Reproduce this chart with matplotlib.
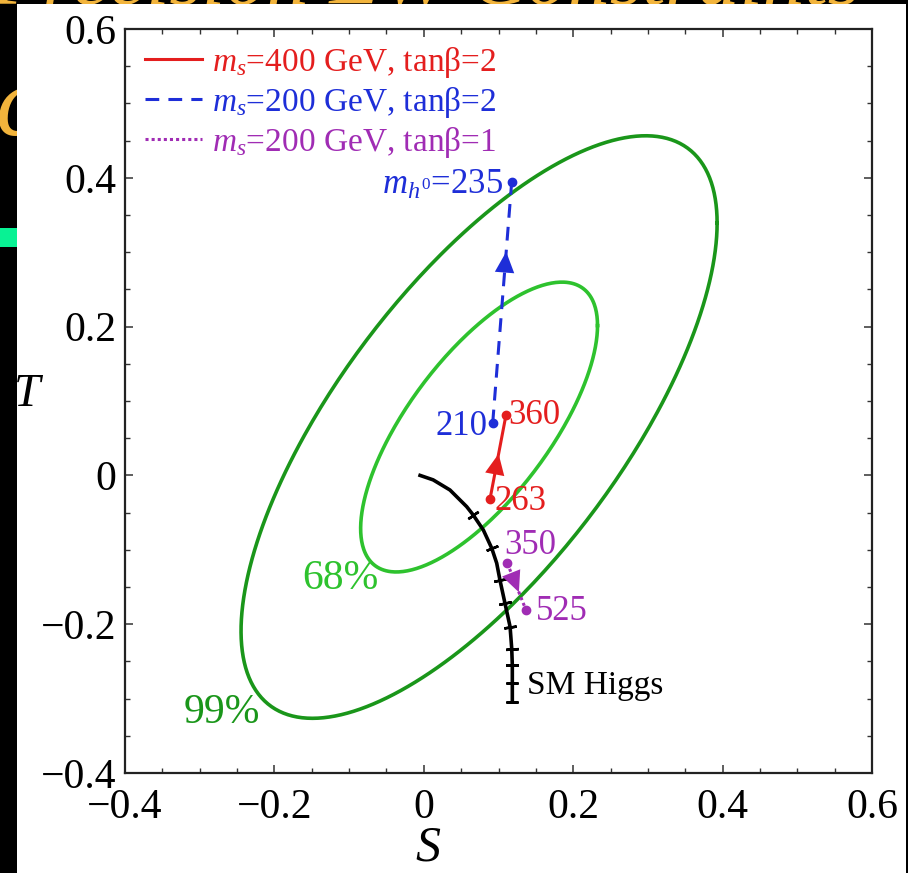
import numpy as np
import matplotlib
matplotlib.use("Agg")
import matplotlib.pyplot as plt
from matplotlib.patches import Rectangle
from matplotlib.ticker import MultipleLocator

plt.rcParams['font.family'] = ['Liberation Serif', 'DejaVu Serif']
plt.rcParams['mathtext.fontset'] = 'custom'
plt.rcParams['mathtext.rm'] = 'Liberation Serif'
plt.rcParams['mathtext.it'] = 'Liberation Serif:italic'

# ---------------- data ----------------
# S,T fit (centre, widths, correlation) and confidence levels
fit_S, fit_T = 0.074, 0.065
sig_S, sig_T, rho = 0.105, 0.129, 0.70
cl_names = ["68%", "99%"]
cl_chi2 = [2.28, 9.21]
cl_colors = ["#2ec22e", "#1a961a"]
cl_label_pos = [(-0.112, -0.139), (-0.27, -0.319)]

# SM Higgs line
sm_S = [-0.005, 0.0125, 0.035, 0.0574, 0.066, 0.0797, 0.091, 0.0976, 0.102,
        0.1087, 0.1155, 0.1177, 0.1185, 0.1185, 0.1185]
sm_T = [0.0, -0.006, -0.0196, -0.042, -0.053, -0.0734, -0.098, -0.118, -0.141,
        -0.172, -0.2034, -0.2327, -0.255, -0.279, -0.304]
sm_tick_idx = [4, 6, 8, 9, 10, 11, 12, 13, 14]

# two-Higgs-doublet scenarios: endpoints (S,T) and labels
scen_names = [r"$m_s$=400 GeV, tanβ=2", r"$m_s$=200 GeV, tanβ=2", r"$m_s$=200 GeV, tanβ=1"]
scen_colors = ["#e41e1e", "#1e2ed8", "#a02cb4"]
scen_styles = ["-", (0, (4.5, 3)), (0, (1, 1))]
scen_S = [[0.0886, 0.110], [0.0922, 0.1177], [0.1118, 0.1368]]
scen_T = [[-0.032, 0.081], [0.070, 0.3948], [-0.118, -0.181]]
scen_start_lbl = ["263", "210", "350"]
scen_end_lbl = ["360", r"$m_{h^0}$=235", "525"]
arrow_frac = [0.54, 0.71, 0.62]

# ---------------- figure ----------------
fig = plt.figure(figsize=(9.08, 8.73), dpi=100, facecolor="black")
W, H = 908, 873
# decorative slide remnants (mostly hidden behind the white panel)
fig.text(0.47, 1 - 5 / H, "Precision EW Constraints", color="#f2b43c", fontsize=60,
         style="italic", ha="center", va="baseline", zorder=-10)
fig.text(-4 / W, 1 - 135 / H, "c", color="#f2b43c", fontsize=72, style="italic",
         ha="left", va="baseline", zorder=-10)
fig.add_artist(Rectangle((0, 1 - 247 / H), 17 / W, 19 / H, transform=fig.transFigure,
                         facecolor="#08f294", edgecolor="none", zorder=-9))
fig.add_artist(Rectangle((17 / W, 0), 889 / W, (H - 4) / H, transform=fig.transFigure,
                         facecolor="white", edgecolor="none", zorder=-5))
fig.add_artist(Rectangle((906 / W, 0), 2 / W, 1, transform=fig.transFigure,
                         facecolor="black", edgecolor="none", zorder=20))

ax = fig.add_axes([125 / W, 1 - 773 / H, 747 / W, 744 / H])
ax.set_xlim(-0.4, 0.6)
ax.set_ylim(-0.4, 0.6)

# confidence ellipses
t = np.linspace(0, 2 * np.pi, 400)
delta = np.arccos(rho)
for name, c2, col, (lx, ly) in zip(cl_names, cl_chi2, cl_colors, cl_label_pos):
    k = np.sqrt(c2)
    ax.plot(fit_S + k * sig_S * np.cos(t), fit_T + k * sig_T * np.cos(t + delta),
            color=col, lw=2.6)
    ax.text(lx, ly, name, color=col, fontsize=30, ha="center", va="center")

# SM Higgs curve with ticks
ax.plot(sm_S, sm_T, color="black", lw=2.6)
sx, sy = np.array(sm_S), np.array(sm_T)
for i in sm_tick_idx:
    j0, j1 = max(i - 1, 0), min(i + 1, len(sx) - 1)
    ang = np.degrees(np.arctan2(sy[j1] - sy[j0], sx[j1] - sx[j0]))
    ax.plot(sx[i], sy[i], marker=(2, 2, ang), ms=9, mew=1.8, color="black")
ax.text(0.138, -0.283, "SM Higgs", fontsize=24, ha="left", va="center", color="black")

# scenario lines
for k in range(3):
    xs, ys = scen_S[k], scen_T[k]
    col = scen_colors[k]
    ax.plot(xs, ys, color=col, ls=scen_styles[k], lw=2.2, label=scen_names[k])
    ax.plot(xs, ys, "o", color=col, ms=6, ls="none")
    f = arrow_frac[k]
    dx, dy = xs[1] - xs[0], ys[1] - ys[0]
    tip = (xs[0] + f * dx, ys[0] + f * dy)
    tail = (xs[0] + (f - 0.05) * dx, ys[0] + (f - 0.05) * dy)
    ax.annotate("", xy=tip, xytext=tail,
                arrowprops=dict(arrowstyle="-|>,head_length=0.75,head_width=0.35",
                                color=col, lw=0, shrinkA=0, shrinkB=0,
                                mutation_scale=20))

tx = dict(fontsize=25, va="center")
ax.annotate(scen_start_lbl[0], (scen_S[0][0], scen_T[0][0]), xytext=(3, -2),
            textcoords="offset points", color=scen_colors[0], ha="left", **tx)
ax.annotate(scen_end_lbl[0], (scen_S[0][1], scen_T[0][1]), xytext=(2, 0),
            textcoords="offset points", color=scen_colors[0], ha="left", **tx)
ax.annotate(scen_start_lbl[1], (scen_S[1][0], scen_T[1][0]), xytext=(-4, -2),
            textcoords="offset points", color=scen_colors[1], ha="right", **tx)
ax.annotate(scen_end_lbl[1], (scen_S[1][1], scen_T[1][1]), xytext=(-6, -3),
            textcoords="offset points", color=scen_colors[1], ha="right", **tx)
ax.annotate(scen_start_lbl[2], (scen_S[2][0], scen_T[2][0]), xytext=(-2, 13),
            textcoords="offset points", color=scen_colors[2], ha="left", **tx)
ax.annotate(scen_end_lbl[2], (scen_S[2][1], scen_T[2][1]), xytext=(7, -1),
            textcoords="offset points", color=scen_colors[2], ha="left", **tx)

# legend
leg = ax.legend(loc="upper left", bbox_to_anchor=(0.0, 1.006), frameon=False,
                fontsize=24, handlelength=1.7, handletextpad=0.3,
                labelspacing=0.15, borderaxespad=0.3, borderpad=0.3,
                labelcolor="linecolor")

# axes styling
ax.xaxis.set_minor_locator(MultipleLocator(0.05))
ax.yaxis.set_minor_locator(MultipleLocator(0.05))
ax.tick_params(which="both", direction="in", top=True, right=True, color="#333333")
ax.tick_params(which="major", length=6, width=1.1, labelsize=30)
ax.tick_params(axis="x", which="major", pad=11)
ax.tick_params(axis="y", which="major", pad=6)
ax.tick_params(which="minor", length=3.5, width=1.0)
fmt = lambda v: "0" if abs(v) < 1e-9 else ("%.1f" % v).replace("-", "\u2212")
ticks = [-0.4, -0.2, 0, 0.2, 0.4, 0.6]
ax.set_xticks(ticks)
ax.set_yticks(ticks)
ax.set_xticklabels([fmt(v) for v in ticks])
ax.set_yticklabels([fmt(v) for v in ticks])
for sp in ax.spines.values():
    sp.set_linewidth(1.6)
    sp.set_color("#222222")

ax.set_xlabel("S", fontsize=36, style="italic")
ax.set_ylabel("T", fontsize=34, style="italic", rotation=0)
ax.xaxis.set_label_coords(0.4056, -0.101)
ax.yaxis.set_label_coords(-0.131, 0.508)
ax.xaxis.label.set_va("center")
ax.yaxis.label.set_va("center")
ax.yaxis.label.set_ha("center")

fig.savefig("out.png", dpi=100, facecolor="black")
